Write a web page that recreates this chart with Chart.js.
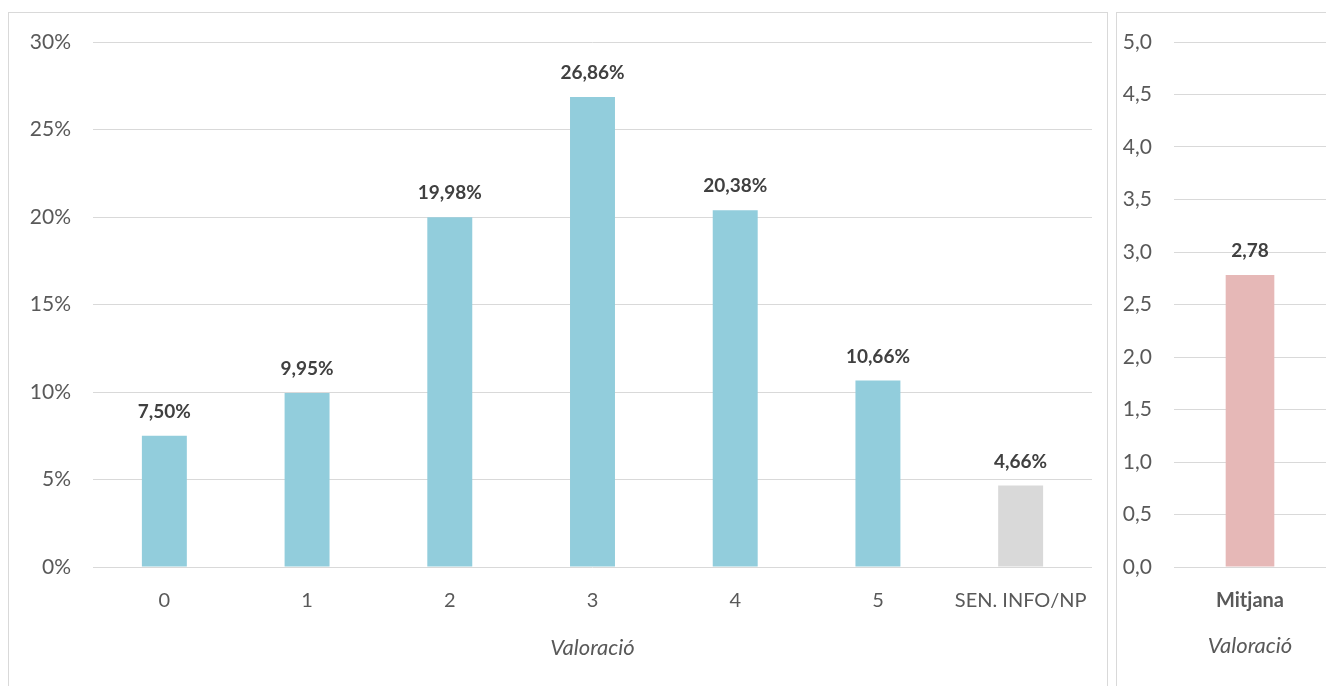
<!DOCTYPE html>
<html>
<head>
<meta charset="utf-8">
<script src="https://cdn.jsdelivr.net/npm/chart.js@4"></script>
<style>
  body { margin: 0; background: #fff; width: 1326px; height: 686px; overflow: hidden; position: relative; }
  .panel { position: absolute; border: 1px solid #d9d9d9; border-bottom: none; background: #fff; }
  #p1 { left: 8px; top: 12px; width: 1098px; height: 690px; }
  #p2 { left: 1116px; top: 12px; width: 220px; height: 690px; }
  canvas { position: absolute; left: 0; top: 0; }
</style>
</head>
<body>
<div class="panel" id="p1"><canvas id="c1" width="1098" height="674"></canvas></div>
<div class="panel" id="p2"><canvas id="c2" width="210" height="674"></canvas></div>
<script>
// dades
const categories = ['0', '1', '2', '3', '4', '5', 'SEN. INFO/NP'];
const percentatges = [7.50, 9.95, 19.98, 26.86, 20.38, 10.66, 4.66];
const coloresBarres = ['#92cddc', '#92cddc', '#92cddc', '#92cddc', '#92cddc', '#92cddc', '#d9d9d9'];
const mitjanaCategories = ['Mitjana'];
const mitjanaValors = [2.78];

const FONT = 'Lato, "Open Sans", sans-serif';
const TEXT = '#595959';

const coma = (v, d) => v.toFixed(d).replace('.', ',');

// etiquetes de dades dibuixades a mà (no hi ha plugin)
const etiquetes = {
    id: 'etiquetes',
    afterDatasetsDraw(chart, args, opts) {
        const ctx = chart.ctx;
        const meta = chart.getDatasetMeta(0);
        const data = chart.data.datasets[0].data;
        ctx.save();
        ctx.font = 'bold 19px ' + FONT;
        ctx.fillStyle = '#404040';
        ctx.textAlign = 'center';
        ctx.textBaseline = 'middle';
        meta.data.forEach((bar, i) => {
            ctx.fillText(opts.format(data[i]), bar.x, bar.y - 24);
        });
        ctx.restore();
    }
};

// amplada fixa de l'eix y, sense marge extra per a les etiquetes
const fixaY = w => s => { s.width = w; s.paddingTop = 0; s.paddingBottom = 0; };

new Chart(document.getElementById('c1'), {
    type: 'bar',
    data: {
        labels: categories,
        datasets: [{
            data: percentatges,
            backgroundColor: coloresBarres,
            barPercentage: 0.315,
            categoryPercentage: 1
        }]
    },
    options: {
        responsive: false,
        animation: false,
        layout: { padding: { top: 29, right: 15, left: 0, bottom: 26 } },
        plugins: {
            legend: { display: false },
            tooltip: { enabled: false },
            etiquetes: { format: v => coma(v, 2) + '%' }
        },
        scales: {
            x: {
                grid: { display: false },
                border: { display: false },
                ticks: { color: TEXT, font: { family: FONT, size: 20 }, padding: 14, maxRotation: 0 },
                title: { display: true, text: 'Valoració', color: TEXT, font: { family: FONT, size: 22, style: 'italic' }, padding: { top: 10, bottom: 0 } },
                afterFit: s => { s.height = 94; }
            },
            y: {
                min: 0, max: 30,
                grid: { color: '#d9d9d9', drawTicks: false },
                border: { display: false },
                ticks: { stepSize: 5, color: TEXT, font: { family: FONT, size: 21 }, padding: 22, callback: v => v + '%' },
                afterFit: fixaY(84)
            }
        }
    },
    plugins: [etiquetes]
});

new Chart(document.getElementById('c2'), {
    type: 'bar',
    data: {
        labels: mitjanaCategories,
        datasets: [{
            data: mitjanaValors,
            backgroundColor: '#e6b8b7',
            barPercentage: 0.32,
            categoryPercentage: 1
        }]
    },
    options: {
        responsive: false,
        animation: false,
        layout: { padding: { top: 29, right: 1, left: 0, bottom: 28 } },
        plugins: {
            legend: { display: false },
            tooltip: { enabled: false },
            etiquetes: { format: v => coma(v, 2) }
        },
        scales: {
            x: {
                grid: { display: false },
                border: { display: false },
                ticks: { color: TEXT, font: { family: FONT, size: 20, weight: 'bold' }, padding: 14 },
                title: { display: true, text: 'Valoració', color: TEXT, font: { family: FONT, size: 22, style: 'italic' }, padding: { top: 10, bottom: 0 } },
                afterFit: s => { s.height = 92; }
            },
            y: {
                min: 0, max: 5,
                grid: { color: '#d9d9d9', drawTicks: false },
                border: { display: false },
                ticks: { stepSize: 0.5, color: TEXT, font: { family: FONT, size: 21 }, padding: 22, callback: v => coma(v, 1) },
                afterFit: fixaY(57)
            }
        }
    },
    plugins: [etiquetes]
});
</script>
</body>
</html>
